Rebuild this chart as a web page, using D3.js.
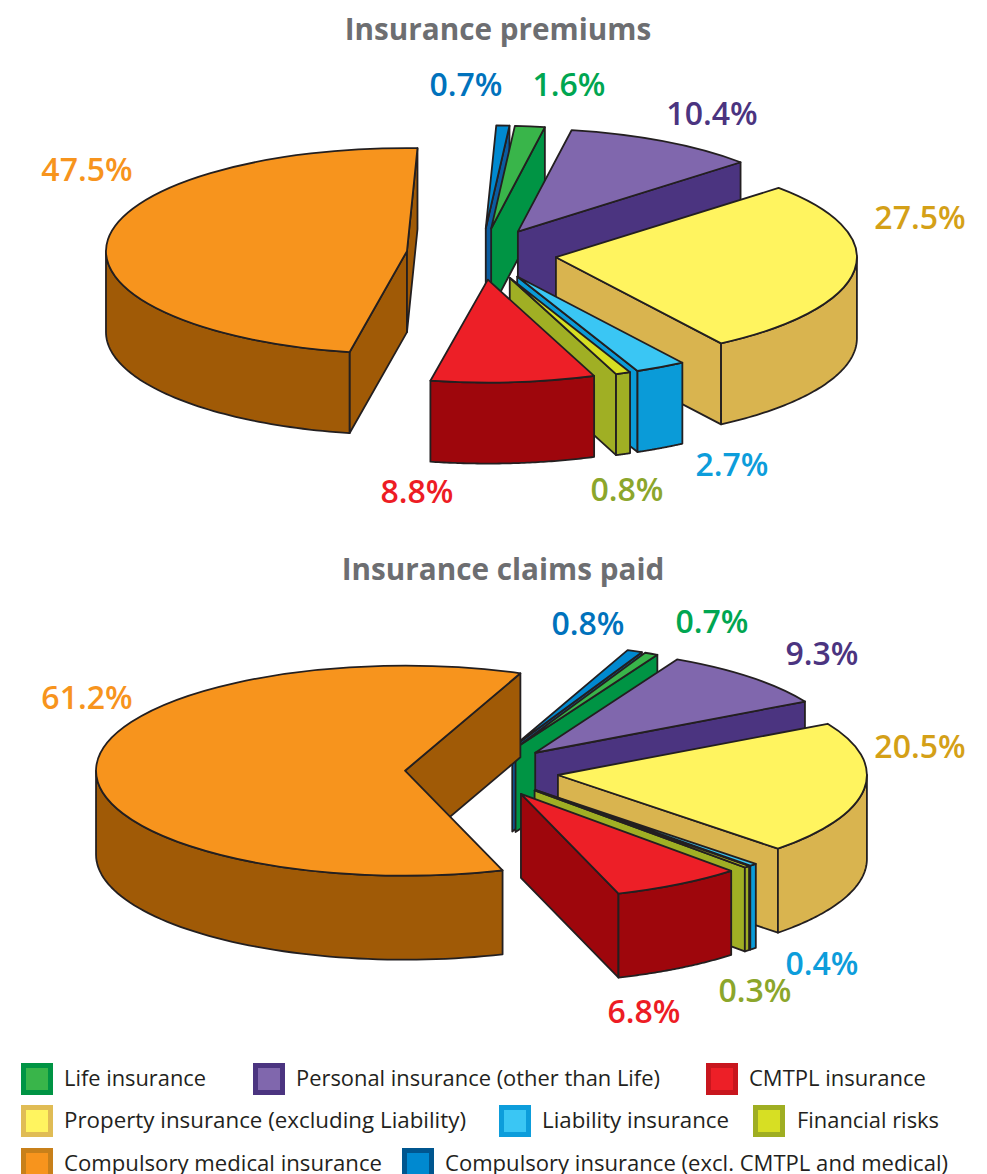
<!DOCTYPE html>
<html><head><meta charset="utf-8">
<script src="https://cdn.jsdelivr.net/npm/d3@7"></script>
<style>html,body{margin:0;padding:0;background:#fff}svg{display:block}text{font-family:"Open Sans",sans-serif}</style>
</head><body><svg id="c" width="987" height="1174" viewBox="0 0 987 1174"></svg>
<script>
// ---- data
const categories = ["Compulsory medical insurance","Compulsory insurance (excl. CMTPL and medical)","Life insurance","Personal insurance (other than Life)","Property insurance (excluding Liability)","Liability insurance","Financial risks","CMTPL insurance"];
const premiums = [47.5,0.7,1.6,10.4,27.5,2.7,0.8,8.8];
const claims = [61.2,0.8,0.7,9.3,20.5,0.4,0.3,6.8];
const legendOrder = [2,3,7,4,5,6,0,1];
// ---- styles
const topColors = ["#F7941D","#0089D0","#39B54A","#8067AD","#FFF45F","#3AC6F4","#D7DF23","#ED1F27"];
const wallColors = ["#A05A06","#0B5CA0","#009444","#4B3480","#D9B44F","#0A9BD8","#A0AF24","#9E060C"];
const swatchBorders = ["#C8801A","#00568F","#009444","#4B3480","#E0BC55","#0D9DDB","#9FAE22","#C8161E"];
const labelColors = ["#F7941D","#0072BC","#00A651","#4B3480","#D4A017","#0D9DDB","#8CA62B","#ED1C24"];
const ink = "#231F20";
// ---- layout
const charts = [
 {title:"Insurance premiums", titleX:498, titleY:40, values:premiums, start:191, cx:481.5, cy:254, rx:301, ry:103, depth:81, explode:75,
  labels:[[87,181],[466,96],[569,96],[712,125],[920,229],[732,476],[627,501],[417,503]]},
 {title:"Insurance claims paid", titleX:503, titleY:580, values:claims, start:161.6, cx:481.8, cy:771.5, rx:309, ry:105, depth:84, explode:76.8,
  labels:[[87,709],[588,635],[712,633],[822,665],[920,758],[822,975],[755,1002],[644,1023]]}
];
const legendPos = [[21,1063,64],[253,1063,296],[706,1063,749],[21,1105,64],[499,1105,542],[753,1105,797],[21,1148,64],[402,1148,445]];
const legendWidths = [142,364,177,402,187,142,318,503];

const svg = d3.select("#c");
const rad = d => d*Math.PI/180;
const line = d3.line();

charts.forEach(ch=>{
  svg.append("text").attr("x",ch.titleX).attr("y",ch.titleY).attr("text-anchor","middle")
    .attr("font-size",29.7).attr("font-weight",700).attr("fill","#6D6E71").text(ch.title);

  const sx = d3.scaleLinear().domain([-1,1]).range([-ch.rx,ch.rx]);
  const sy = d3.scaleLinear().domain([-1,1]).range([-ch.ry,ch.ry]);
  const arcs = d3.pie().sort(null).startAngle(rad(ch.start)).endAngle(rad(ch.start)+2*Math.PI)(ch.values);
  const withIdx = arcs.map((a,i)=>{
    const mid=(a.startAngle+a.endAngle)/2;
    const e=ch.explode/ch.rx;
    return {...a,i,mid,ax:ch.cx+sx(e*Math.sin(mid)),ay:ch.cy+sy(-e*Math.cos(mid))};
  }).sort((p,q)=>(-Math.cos(p.mid))-(-Math.cos(q.mid)));

  const arcGen = d3.arc().innerRadius(0).outerRadius(ch.rx);
  withIdx.forEach(s=>{
    const g = svg.append("g").attr("stroke",ink).attr("stroke-width",1.8).attr("stroke-linejoin","round");
    const rim = (t,z=0)=>[s.ax+sx(Math.sin(t)), s.ay+sy(-Math.cos(t))+z];
    const side = t=>[[s.ax,s.ay],rim(t),rim(t,ch.depth),[s.ax,s.ay+ch.depth]];
    const wall = wallColors[s.i];
    if(Math.sin(s.startAngle)<0) g.append("path").attr("d",line(side(s.startAngle))+"Z").attr("fill",wall);
    if(Math.sin(s.endAngle)>0) g.append("path").attr("d",line(side(s.endAngle))+"Z").attr("fill",wall);
    [0,1].forEach(k=>{
      const lo=Math.max(s.startAngle,rad(90+360*k)), hi=Math.min(s.endAngle,rad(270+360*k));
      if(hi<=lo) return;
      const ts=d3.range(0,61).map(j=>lo+(hi-lo)*j/60);
      const pts=ts.map(t=>rim(t)).concat(ts.slice().reverse().map(t=>rim(t,ch.depth)));
      g.append("path").attr("d",line(pts)+"Z").attr("fill",wall);
    });
    g.append("path").attr("d",arcGen({startAngle:s.startAngle,endAngle:s.endAngle}))
      .attr("transform",`translate(${s.ax},${s.ay}) scale(1,${ch.ry/ch.rx})`)
      .attr("vector-effect","non-scaling-stroke").attr("fill",topColors[s.i]);
  });

  arcs.forEach((a,i)=>{
    svg.append("text").attr("x",ch.labels[i][0]).attr("y",ch.labels[i][1]).attr("text-anchor","middle")
      .attr("font-size",32).attr("font-weight",600).attr("fill",labelColors[i])
      .text(ch.values[i].toFixed(1)+"%");
  });
});

legendOrder.forEach((c,i)=>{
  const [x,y,tx]=legendPos[i];
  svg.append("rect").attr("x",x+2.5).attr("y",y+2.5).attr("width",27).attr("height",27)
    .attr("fill",topColors[c]).attr("stroke",swatchBorders[c]).attr("stroke-width",5);
  svg.append("text").attr("x",tx).attr("y",y+23).attr("font-size",22).attr("fill",ink)
    .attr("textLength",legendWidths[i]).attr("lengthAdjust","spacingAndGlyphs").text(categories[c]);
});
</script></body></html>
